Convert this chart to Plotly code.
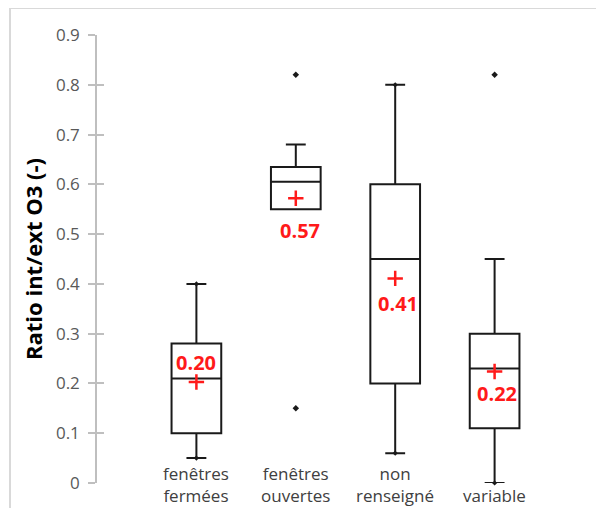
import plotly.graph_objects as go

# ---- data ----
categories = ["fenêtres<br>fermées", "fenêtres<br>ouvertes", "non<br>renseigné", "variable"]
q1 = [0.10, 0.55, 0.20, 0.11]
median = [0.21, 0.605, 0.45, 0.23]
q3 = [0.28, 0.635, 0.60, 0.30]
lower_whisker = [0.05, 0.55, 0.06, 0.00]
upper_whisker = [0.40, 0.68, 0.80, 0.45]
means = [0.203, 0.572, 0.411, 0.224]
outlier_cat = [1, 1, 3]
outlier_val = [0.82, 0.15, 0.82]
extreme_cat = [0, 0, 2, 2, 3]
extreme_val = [0.40, 0.05, 0.80, 0.06, 0.00]
y_ticks = [0, 0.1, 0.2, 0.3, 0.4, 0.5, 0.6, 0.7, 0.8, 0.9]

# ---- styling ----
label_dx = [0, 4, 3, 2]          # pixel offsets of mean labels
label_dy = [19, -32, -25, -22]
FONT = "Open Sans"
pos = list(range(len(categories)))

fig = go.Figure()

fig.add_trace(go.Box(
    x=pos, q1=q1, median=median, q3=q3,
    lowerfence=lower_whisker, upperfence=upper_whisker,
    width=0.5, whiskerwidth=0.4,
    line=dict(color="#1a1a1a", width=2),
    fillcolor="rgba(0,0,0,0)",
    boxpoints=False, showlegend=False, hoverinfo="skip",
))

fig.add_trace(go.Scatter(
    x=extreme_cat, y=extreme_val, mode="markers",
    marker=dict(symbol="diamond", size=4, color="#1a1a1a"),
    showlegend=False, hoverinfo="skip", cliponaxis=False,
))

fig.add_trace(go.Scatter(
    x=outlier_cat, y=outlier_val, mode="markers",
    marker=dict(symbol="diamond", size=5, color="#1a1a1a"),
    showlegend=False, hoverinfo="skip", cliponaxis=False,
))

fig.add_trace(go.Scatter(
    x=pos, y=means, mode="markers",
    marker=dict(symbol="cross-thin", size=11,
                line=dict(color="#ff1a1a", width=2.5)),
    showlegend=False, hoverinfo="skip", cliponaxis=False,
))

# dummy trace for the inner-tick overlay axis
fig.add_trace(go.Scatter(x=[0], y=[0], yaxis="y2", mode="markers",
                         marker=dict(opacity=0), showlegend=False, hoverinfo="skip"))

for i, m in enumerate(means):
    fig.add_annotation(x=pos[i], y=m, text=f"<b>{m:.2f}</b>", showarrow=False,
                       xshift=label_dx[i], yshift=label_dy[i],
                       font=dict(family=FONT, size=20, color="#ff1a1a"))

for i, c in enumerate(categories):
    fig.add_annotation(x=pos[i], y=0, text=c, showarrow=False,
                       yanchor="bottom", yshift=-26,
                       font=dict(family=FONT, size=17, color="#404040"))

# outer border of the chart (cropped)
fig.add_shape(type="rect", xref="paper", yref="paper",
              xsizemode="pixel", ysizemode="pixel", xanchor=0, yanchor=1,
              x0=-87, x1=560, y0=27, y1=-500,
              line=dict(color="#d9d9d9", width=2), layer="below")

fig.update_layout(
    width=604, height=508,
    margin=dict(l=89, r=18, t=27, b=33),
    paper_bgcolor="white", plot_bgcolor="white",
    font=dict(family=FONT, color="#595959"),
    xaxis=dict(range=[-1, 4], visible=False),
    yaxis=dict(range=[0, 0.9], tickvals=y_ticks, ticktext=[f"{v:g}" for v in y_ticks],
               showgrid=False, zeroline=False,
               showline=True, linecolor="#bfbfbf", linewidth=1.5,
               ticks="outside", ticklen=7, tickcolor="#bfbfbf", tickwidth=1.5,
               ticklabelstandoff=5,
               tickfont=dict(family=FONT, size=17, color="#595959"),
               title=dict(text="<b>Ratio int/ext O3 (-)</b>", standoff=7,
                          font=dict(family=FONT, size=22, color="black"))),
    yaxis2=dict(range=[0, 0.9], tickvals=y_ticks, overlaying="y", side="left",
                showgrid=False, zeroline=False, showline=False,
                ticks="inside", ticklen=7, tickcolor="#bfbfbf", tickwidth=1.5,
                showticklabels=False),
)

fig.write_html("out.html")
